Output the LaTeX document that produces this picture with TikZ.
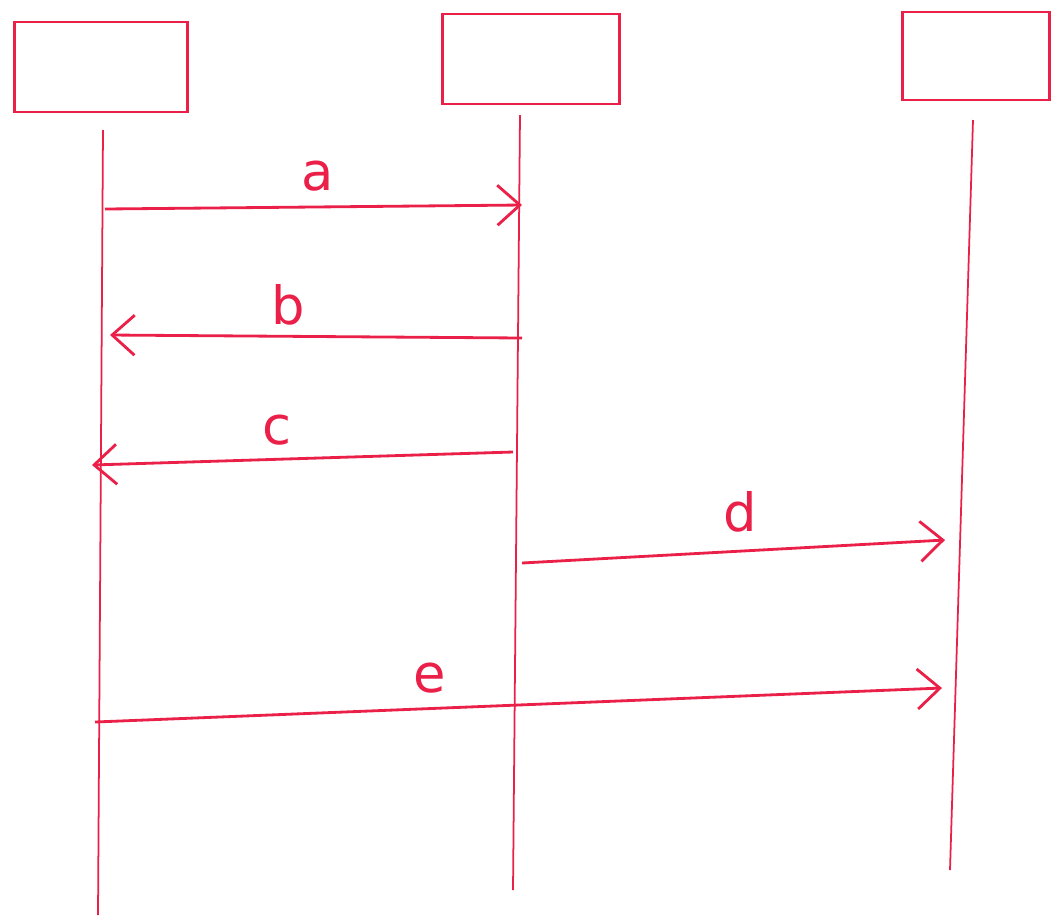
\documentclass[tikz,border=0pt]{standalone}
\usepackage{fontspec}
\setsansfont{DejaVu Sans}
\definecolor{penred}{RGB}{234,32,72}
\usetikzlibrary{arrows.meta, positioning}

\begin{document}
\begin{tikzpicture}[x=0.02cm, y=-0.02cm,
    actor/.style={draw=penred, line width=1.5pt, minimum height=1.8cm, inner sep=0pt},
    life/.style={penred, line width=1pt},
    msg/.style={-{Straight Barb[length=4.5mm, width=8mm, line width=1.6pt]}, penred, line width=1.6pt},
    lbl/.style={text=penred, font=\fontsize{30}{30}\selectfont\sffamily}
  ]
  \useasboundingbox (0,0) rectangle (1055,921);
  % participants
  \node[actor, minimum width=3.46cm] (boxA) at (101,67) {};
  \node[actor, minimum width=3.54cm] (boxB) at (531,59) {};
  \node[actor, minimum width=2.94cm, minimum height=1.76cm] (boxC) at (976,56) {};
  % lifelines
  \coordinate (topA) at (103,130); \coordinate (botA) at (98,915);
  \coordinate (topB) at (520,115); \coordinate (botB) at (513,890);
  \coordinate (topC) at (973,120); \coordinate (botC) at (950,870);
  \draw[life] (topA) -- (botA);
  \draw[life] (topB) -- (botB);
  \draw[life] (topC) -- (botC);
  % message ends
  \coordinate (aS) at (105,209); \coordinate (aE) at (522,205);
  \coordinate (bS) at (522,338); \coordinate (bE) at (110,335);
  \coordinate (cS) at (513,452); \coordinate (cE) at (92,465);
  \coordinate (dS) at (522,563); \coordinate (dE) at (945,540);
  \coordinate (eS) at (95,722);  \coordinate (eE) at (942,688);
  \draw[msg] (aS) -- (aE);
  \draw[msg] (bS) -- (bE);
  \draw[msg] (cS) -- (cE);
  \draw[msg] (dS) -- (dE);
  \draw[msg] (eS) -- (eE);
  % labels
  \node[lbl] (la) at (318,176) {a};
  \node[lbl] (lb) at (288,305) {b};
  \node[lbl] (lc) at (277,430) {c};
  \node[lbl] (ld) at (740,512) {d};
  \node[lbl] (le) at (430,678) {e};
\end{tikzpicture}
\end{document}
